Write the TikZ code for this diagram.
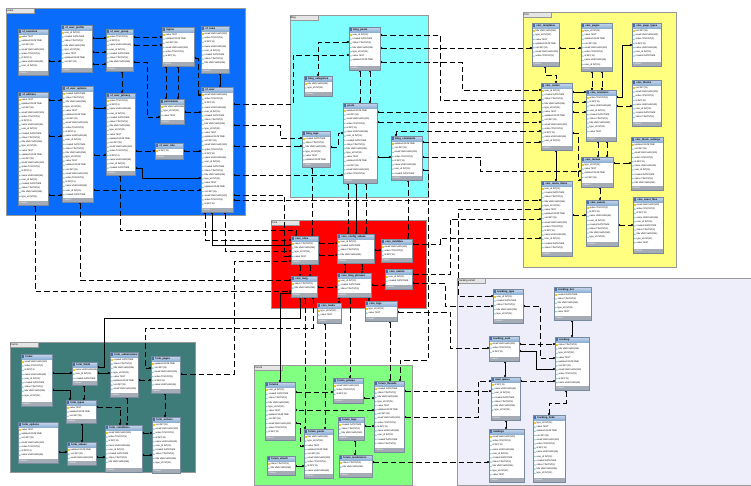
\documentclass[tikz,border=0pt]{standalone}
\usepackage{fontspec}
\setmainfont{Liberation Sans}
\usetikzlibrary{arrows.meta}
\pgfdeclarelayer{bg}\pgfdeclarelayer{lines}
\pgfsetlayers{bg,lines,main}
\definecolor{rblue}{RGB}{10,108,250}
\definecolor{rcyan}{RGB}{128,255,255}
\definecolor{ryellow}{RGB}{255,255,128}
\definecolor{rred}{RGB}{255,0,0}
\definecolor{rlav}{RGB}{238,238,250}
\definecolor{rgreen}{RGB}{128,255,128}
\definecolor{rteal}{RGB}{62,124,122}
\definecolor{hdrtop}{RGB}{200,218,240}
\definecolor{hdrbot}{RGB}{140,174,210}
\definecolor{tborder}{RGB}{120,138,158}
\definecolor{tfoot}{RGB}{165,172,182}
\definecolor{iconblue}{RGB}{70,110,170}
\definecolor{keyyellow}{RGB}{240,200,40}
\definecolor{diacyan}{RGB}{90,190,210}
\newcommand\rowfont{\fontsize{2.3}{2.6}\selectfont}
\newcommand\ttlfont{\fontsize{2.6}{2.9}\selectfont\bfseries}
\newcommand\fieldname[1]{\ifcase#1 id INT(11)\or name VARCHAR(45)\or user\_id INT(11)\or created DATETIME\or status TINYINT(1)\or title VARCHAR(255)\or type\_id INT(11)\or value TEXT\or updated DATETIME\or sort INT(11)\or email VARCHAR(100)\or active TINYINT(1)\fi}
\tikzset{
  regbox/.style={anchor=north west, draw=black!40, line width=0.4pt, inner sep=0pt, outer sep=0pt},
  tabbox/.style={anchor=north west, fill=black!10, draw=black!40, line width=0.3pt, minimum width=28pt, minimum height=5pt, inner sep=0.5pt, text width=27pt, align=left, font=\fontsize{2.6}{3}\selectfont},
  tblnode/.style={anchor=north west, fill=white, inner sep=0pt, outer sep=0pt},
  rowtxt/.style={inner sep=0pt, font=\rowfont},
  ttl/.style={inner sep=0pt, font=\ttlfont},
  foot/.style={inner sep=0pt, font=\fontsize{2.2}{2.5}\selectfont, text=white},
  fk/.style={draw=black, line width=0.8pt, dash pattern=on 5.5pt off 3pt, {Circle[length=2.1pt]}-{Circle[length=2.1pt]}},
  fs/.style={draw=black, line width=0.8pt, {Circle[length=2.1pt]}-{Circle[length=2.1pt]}}
}
\newcommand\region[7]{%
  \node[regbox, fill=#6, minimum width={(#4-#2)*1pt}, minimum height={(#5-#3)*1pt}] (#1) at (#2,#3) {};
  \node[tabbox] (#1tab) at (#2,#3) {#7};
}
\newcommand\dbt[6]{%
  \fill[black!35] (#2+0.9,#3+0.9) rectangle (#4+0.9,#5+0.9);
  \node[tblnode, minimum width={(#4-#2)*1pt}, minimum height={(#5-#3)*1pt}] (#1) at (#2,#3) {};
  \shade[top color=hdrtop, bottom color=hdrbot] (#2,#3) rectangle (#4,#3+5.2);
  \fill[tfoot] (#2,#5-4) rectangle (#4,#5);
  \fill[iconblue] (#2+1,#3+1.3) rectangle (#2+3.2,#3+3.9);
  \node[ttl, anchor=west] at (#2+4.2,#3+2.6) {#6};
  \node[foot, anchor=west] at (#2+1.5,#5-2) {Indexes};
  \pgfmathtruncatemacro\nr{max(1,floor((#5-#3-10.2)/4.2))}%
  \foreach \i in {1,...,\nr}{%
    \pgfmathsetmacro\yy{#3+5.8+(\i-0.5)*4.2}%
    \pgfmathtruncatemacro\kk{mod(\i+#2,12)}%
    \ifnum\i=1 \fill[keyyellow] (#2+1.2,\yy-0.8) rectangle (#2+2.6,\yy+0.8);%
    \else \fill[diacyan] (#2+1.9,\yy-0.8) -- (#2+2.7,\yy) -- (#2+1.9,\yy+0.8) -- (#2+1.1,\yy) -- cycle;\fi
    \node[rowtxt, anchor=west] at (#2+3.4,\yy) {\fieldname{\kk}};
  }%
  \draw[tborder, line width=0.4pt] (#1.north west) rectangle (#1.south east);
}
\begin{document}
\begin{tikzpicture}[x=1pt,y=-1pt]
\useasboundingbox (0,0) rectangle (751,485);
\begin{pgfonlayer}{bg}
\fill[white] (0,0) rectangle (751,485);
\region{rb}{6}{8}{245}{215}{rblue}{Users}
\region{rc}{290}{15}{428}{197}{rcyan}{Blog}
\region{ry}{523}{12}{676}{267}{ryellow}{Cms}
\region{rr}{271}{220}{426}{308}{rred}{Core}
\region{rl}{457}{278}{751}{485}{rlav}{Tracking email}
\region{rg}{254}{365}{412}{485}{rgreen}{Forum}
\region{rk}{10}{342}{195}{472}{rteal}{Forms}
\end{pgfonlayer}
% blue tables
\dbt{T1}{18}{29}{48}{75}{xf\_sessions}
\dbt{T2}{61}{25}{92}{72}{xf\_user\_profile}
\dbt{T3}{106}{29}{133}{71}{xf\_user\_group}
\dbt{T4}{162}{27}{194}{66}{logins}
\dbt{T5}{201}{26}{229}{73}{xf\_roles}
\dbt{T6}{18}{92}{48}{205}{xf\_address}
\dbt{T7}{62}{86}{93}{202}{xf\_user\_options}
\dbt{T8}{106}{93}{135}{175}{xf\_user\_privacy}
\dbt{T9}{160}{99}{184}{124}{permission}
\dbt{T10}{155}{143}{183}{159}{xf\_user\_role}
\dbt{T11}{201}{87}{233}{212}{xf\_user}
% cyan tables
\dbt{C1}{349}{27}{380}{70}{blog\_posts}
\dbt{C2}{304}{76}{332}{96}{blog\_categories}
\dbt{C3}{343}{103}{377}{183}{posts}
\dbt{C4}{302}{131}{330}{167}{blog\_tags}
\dbt{C5}{391}{136}{422}{180}{blog\_comments}
% yellow tables
\dbt{Y1}{532}{23}{559}{66}{cms\_templates}
\dbt{Y2}{581}{23}{612}{71}{cms\_pages}
\dbt{Y3}{632}{23}{661}{66}{cms\_page\_types}
\dbt{Y4}{541}{83}{572}{150}{cms\_nodes}
\dbt{Y5}{586}{90}{616}{141}{cms\_revisions}
\dbt{Y6}{632}{80}{661}{126}{cms\_blocks}
\dbt{Y7}{631}{137}{663}{190}{cms\_block\_settings}
\dbt{Y8}{581}{157}{613}{187}{cms\_menus}
\dbt{Y9}{541}{181}{572}{256}{cms\_menu\_items}
\dbt{Y10}{586}{200}{618}{246}{cms\_assets}
\dbt{Y11}{633}{197}{663}{253}{cms\_asset\_files}
% red tables
\dbt{R1}{291}{236}{318}{264}{core\_sites}
\dbt{R2}{337}{234}{374}{263}{core\_config\_values}
\dbt{R3}{381}{239}{412}{262}{core\_modules}
\dbt{R4}{291}{276}{317}{297}{core\_lang}
\dbt{R5}{337}{273}{371}{297}{core\_lang\_phrases}
\dbt{R6}{385}{269}{412}{289}{core\_events}
\dbt{R7}{317}{303}{341}{323}{core\_tasks}
\dbt{R8}{365}{301}{397}{321}{core\_logs}
% lavender tables
\dbt{L1}{493}{289}{523}{323}{tracking\_type}
\dbt{L2}{554}{287}{591}{320}{tracking\_list}
\dbt{L3}{489}{336}{519}{361}{tracking\_sent}
\dbt{L4}{555}{337}{589}{390}{tracking}
\dbt{L5}{491}{377}{520}{420}{mail\_queue}
\dbt{L6}{489}{429}{524}{482}{mailings}
\dbt{L7}{533}{415}{565}{482}{tracking\_links}
% green tables
\dbt{G1}{265}{382}{295}{440}{forums}
\dbt{G2}{333}{378}{363}{403}{forum\_groups}
\dbt{G3}{374}{381}{404}{452}{forum\_threads}
\dbt{G4}{338}{417}{364}{440}{forum\_tags}
\dbt{G5}{304}{429}{333}{478}{forum\_posts}
\dbt{G6}{267}{456}{295}{475}{forum\_attach}
\dbt{G7}{339}{455}{372}{477}{forum\_moderators}
% teal tables
\dbt{K1}{21}{354}{52}{406}{forms}
\dbt{K2}{72}{362}{97}{385}{form\_fields}
\dbt{K3}{110}{352}{138}{397}{form\_submissions}
\dbt{K4}{151}{356}{180}{393}{form\_pages}
\dbt{K5}{66}{400}{96}{423}{form\_types}
\dbt{K6}{18}{422}{58}{463}{form\_options}
\dbt{K7}{67}{442}{96}{465}{form\_values}
\dbt{K8}{105}{425}{142}{472}{form\_conditions}
\dbt{K9}{152}{417}{180}{473}{form\_actions}
\begin{pgfonlayer}{lines}
% blue internal
\draw[fk] (T1.east |- 0,61) -- (T2.west |- 0,61);
\draw[fs] (T2.east |- 0,38) -- (T3.west |- 0,38);
\draw[fk] (T2.east |- 0,52) -- (T3.west |- 0,52);
\draw[fk] (T2.east |- 0,64) -- (T3.west |- 0,64);
\draw[fk] (T3.east |- 0,37) -- (T4.west |- 0,37);
\draw[fk] (T3.east |- 0,45) -- (T4.west |- 0,45);
\draw[fk] (T4.south -| 166,0) -- (T9.north -| 166,0);
\draw[fk] (T4.south -| 178,0) -- (T9.north -| 178,0);
\draw[fs] (T5.south -| 220,0) -- (T11.north -| 220,0);
\draw[fk] (T3.south -| 122,0) -- (T8.north -| 122,0);
\draw[fs] (T7.east |- 0,108) -- (T8.west |- 0,108);
\draw[fk] (T7.east |- 0,155) -- (T8.west |- 0,155);
\draw[fk] (T3.east |- 0,62) -- (147,62) -- (147,117) -- (T9.west |- 0,117);
\draw[fk] (T9.east |- 0,112) -- (T11.west |- 0,112);
\draw[fk] (T10.east |- 0,151) -- (T11.west |- 0,151);
\draw[fk] (T8.east |- 0,151) -- (T10.west |- 0,151);
\draw[fk] (T6.east |- 0,136) -- (T7.west |- 0,136);
\draw[fk] (T6.east |- 0,195) -- (T7.west |- 0,195);
\draw[fk] (T6.east |- 0,100) -- (T7.west |- 0,100);
\draw[fs] (T8.east |- 0,168) -- (142,168) -- (142,178) -- (T11.west |- 0,178);
\draw[fk] (T7.east |- 0,190) -- (T11.west |- 0,190);
\draw[fk] (T4.east |- 0,58) -- (198,58) -- (198,95) -- (T11.west |- 0,95);
% blue to others
\draw[fk] (T11.east |- 0,104) -- (293,104) -- (293,55) -- (C1.west |- 0,55);
\draw[fk] (T11.east |- 0,146) -- (C4.west |- 0,146);
\draw[fk] (T11.east |- 0,125) -- (280,125) -- (280,138) -- (C4.west |- 0,138);
\draw[fk] (T11.east |- 0,175) -- (C3.west |- 0,175);
\draw[fk] (T11.east |- 0,200) -- (Y9.west |- 0,200);
\draw[fk] (T11.east |- 0,195) -- (284,195) -- (284,256) -- (R1.west |- 0,256);
\draw[fk] (T11.south -| 205,0) -- (205,240) -- (R1.west |- 0,240);
\draw[fs] (T11.south -| 212,0) -- (212,245) -- (R1.west |- 0,245);
\draw[fk] (T11.south -| 225,0) -- (225,251) -- (R1.west |- 0,251);
\draw[fk] (T8.south -| 120,0) -- (120,230) -- (296,230) -- (R1.north -| 296,0);
\draw[fk] (T6.south -| 35,0) -- (35,291) -- (R4.west |- 0,291);
\draw[fk] (T7.south -| 80,0) -- (80,280) -- (R4.west |- 0,280);
% teal
\draw[fs] (K1.east |- 0,373) -- (K2.west |- 0,373);
\draw[fs] (K2.east |- 0,373) -- (K3.west |- 0,373);
\draw[fs] (K2.east |- 0,367) -- (104,367) -- (104,318) -- (300,318) -- (R4.south -| 300,0);
\draw[fk] (K3.east |- 0,380) -- (K4.west |- 0,380);
\draw[fk] (R4.south -| 313,0) -- (313,328) -- (145,328) -- (145,368) -- (K4.west |- 0,368);
\draw[fk] (K4.east |- 0,374) -- (234,374) -- (234,261) -- (R1.west |- 0,261);
\draw[fk] (K2.south -| 84,0) -- (K5.north -| 84,0);
\draw[fs] (K5.north -| 70,0) -- (70,390) -- (K1.east |- 0,390);
\draw[fk] (K5.east |- 0,407) -- (120,407) -- (K8.north -| 120,0);
\draw[fk] (K3.south -| 127,0) -- (K8.north -| 127,0);
\draw[fs] (K5.south -| 82,0) -- (K7.north -| 82,0);
\draw[fs] (K6.east |- 0,452) -- (K7.west |- 0,452);
\draw[fk] (K7.east |- 0,457) -- (K8.west |- 0,457);
\draw[fk] (K8.east |- 0,433) -- (K9.west |- 0,433);
\draw[fs] (K8.east |- 0,455) -- (K9.west |- 0,455);
\draw[fk] (K4.south -| 165,0) -- (K9.north -| 165,0);
% cyan
\draw[fk] (C1.west |- 0,42) -- (318,42) -- (C2.north -| 318,0);
\draw[fk] (C1.south -| 360,0) -- (C3.north -| 360,0);
\draw[fk] (C1.south -| 370,0) -- (C3.north -| 370,0);
\draw[fk] (C4.east |- 0,147) -- (338,147) -- (338,133) -- (C3.west |- 0,133);
\draw[fs] (C3.east |- 0,157) -- (C5.west |- 0,157);
\draw[fk] (C5.east |- 0,157) -- (480,157) -- (480,171) -- (Y8.west |- 0,171);
\draw[fk] (C1.east |- 0,48) -- (Y1.west |- 0,48);
\draw[fk] (C1.east |- 0,62) -- (462,62) -- (462,90) -- (Y4.west |- 0,90);
\draw[fk] (C1.east |- 0,35) -- (440,35) -- (440,100) -- (Y4.west |- 0,100);
\draw[fk] (C3.east |- 0,112) -- (Y4.west |- 0,112);
\draw[fk] (C3.east |- 0,122) -- (Y4.west |- 0,122);
\draw[fk] (C5.north -| 396,0) -- (396,131) -- (Y4.west |- 0,131);
\draw[fk] (C5.east |- 0,142) -- (Y4.west |- 0,142);
\draw[fk] (C5.east |- 0,170) -- (428,170) -- (428,360) -- (400,360) -- (G3.north -| 400,0);
\draw[fk] (C3.south -| 348,0) -- (R2.north -| 348,0);
\draw[fs] (C3.south -| 356,0) -- (R2.north -| 356,0);
\draw[fk] (C3.south -| 366,0) -- (R2.north -| 366,0);
\draw[fk] (C5.south -| 408,0) -- (R3.north -| 408,0);
\draw[fk] (C4.south -| 312,0) -- (R1.north -| 312,0);
% red
\draw[fk] (R1.east |- 0,243) -- (R2.west |- 0,243);
\draw[fk] (R1.east |- 0,255) -- (R2.west |- 0,255);
\draw[fs] (R2.east |- 0,250) -- (R3.west |- 0,250);
\draw[fs] (R2.south -| 345,0) -- (R5.north -| 345,0);
\draw[fk] (R2.south -| 362,0) -- (R5.north -| 362,0);
\draw[fk] (R1.south -| 300,0) -- (R4.north -| 300,0);
\draw[fk] (R1.south -| 310,0) -- (R4.north -| 310,0);
\draw[fk] (R5.east |- 0,285) -- (R6.west |- 0,285);
\draw[fk] (R4.east |- 0,287) -- (R5.west |- 0,287);
\draw[fk] (R5.south -| 369,0) -- (R8.north -| 369,0);
\draw[fk] (R5.south -| 339,0) -- (R7.north -| 339,0);
\draw[fk] (R3.east |- 0,244) -- (440,244) -- (440,238) -- (Y9.west |- 0,238);
\draw[fk] (R6.east |- 0,274) -- (450,274) -- (450,219) -- (Y9.west |- 0,219);
\draw[fk] (R6.east |- 0,283) -- (445,283) -- (445,306) -- (L1.west |- 0,306);
\draw[fk] (Y9.west |- 0,209) -- (458,209) -- (458,296) -- (L1.west |- 0,296);
\draw[fk] (R8.east |- 0,312) -- (450,312) -- (450,348) -- (L3.west |- 0,348);
\draw[fs] (R4.west |- 0,293) -- (280,293) -- (G1.north -| 280,0);
\draw[fk] (R4.south -| 305,0) -- (G5.north -| 305,0);
\draw[fk] (R7.south -| 325,0) -- (G5.north -| 325,0);
\draw[fk] (R8.south -| 390,0) -- (G3.north -| 390,0);
\draw[fk] (R5.south -| 350,0) -- (G2.north -| 350,0);
% green
\draw[fk] (G1.east |- 0,392) -- (G2.west |- 0,392);
\draw[fk] (G2.east |- 0,398) -- (G3.west |- 0,398);
\draw[fk] (G3.west |- 0,410) -- (G1.east |- 0,410);
\draw[fk] (G4.east |- 0,426) -- (G3.west |- 0,426);
\draw[fk] (G4.south -| 355,0) -- (G7.north -| 355,0);
\draw[fk] (G1.east |- 0,423) -- (300,423) -- (300,446) -- (G5.west |- 0,446);
\draw[fs] (G6.east |- 0,466) -- (G5.west |- 0,466);
\draw[fk] (G3.east |- 0,391) -- (L5.west |- 0,391);
\draw[fk] (G3.east |- 0,417) -- (478,417) -- (478,381) -- (L5.west |- 0,381);
\draw[fk] (G7.east |- 0,462) -- (L6.west |- 0,462);
% lavender
\draw[fk] (L1.east |- 0,306) -- (540,306) -- (540,358) -- (L4.west |- 0,358);
\draw[fs] (L3.east |- 0,351) -- (536,351) -- (536,369) -- (L4.west |- 0,369);
\draw[fk] (L3.east |- 0,344) -- (L4.west |- 0,344);
\draw[fs] (L2.south -| 572,0) -- (L4.north -| 572,0);
\draw[fs] (L5.north -| 505,0) -- (L3.south -| 505,0);
\draw[fk] (L5.east |- 0,381) -- (L4.west |- 0,381);
\draw[fs] (L5.south -| 506,0) -- (L6.north -| 506,0);
\draw[fk] (L4.south -| 566,0) -- (566,403) -- (549,403) -- (L7.north -| 549,0);
% yellow
\draw[fk] (Y1.east |- 0,48) -- (Y2.west |- 0,48);
\draw[fk] (Y1.south -| 545,0) -- (545,75) -- (556,75) -- (Y4.north -| 556,0);
\draw[fk] (Y2.south -| 592,0) -- (Y5.north -| 592,0);
\draw[fk] (Y2.south -| 602,0) -- (Y5.north -| 602,0);
\draw[fs] (Y5.east |- 0,97) -- (622,97) -- (622,45) -- (Y3.west |- 0,45);
\draw[fk] (Y5.east |- 0,106) -- (Y6.west |- 0,106);
\draw[fs] (Y4.east |- 0,92) -- (Y5.west |- 0,92);
\draw[fk] (Y4.east |- 0,102) -- (Y5.west |- 0,102);
\draw[fk] (Y4.east |- 0,112) -- (Y5.west |- 0,112);
\draw[fk] (Y5.south -| 598,0) -- (Y8.north -| 598,0);
\draw[fk] (Y5.south -| 607,0) -- (Y8.north -| 607,0);
\draw[fk] (Y8.east |- 0,163) -- (Y7.west |- 0,163);
\draw[fs] (Y4.south -| 556,0) -- (Y9.north -| 556,0);
\draw[fk] (Y10.east |- 0,225) -- (Y11.west |- 0,225);
\draw[fk] (Y8.south -| 600,0) -- (Y10.north -| 600,0);
\draw[fk] (Y4.east |- 0,133) -- (578,133) -- (578,180) -- (Y8.west |- 0,180);
\draw[fk] (Y9.east |- 0,215) -- (Y10.west |- 0,215);
\end{pgfonlayer}
\end{tikzpicture}
\end{document}
